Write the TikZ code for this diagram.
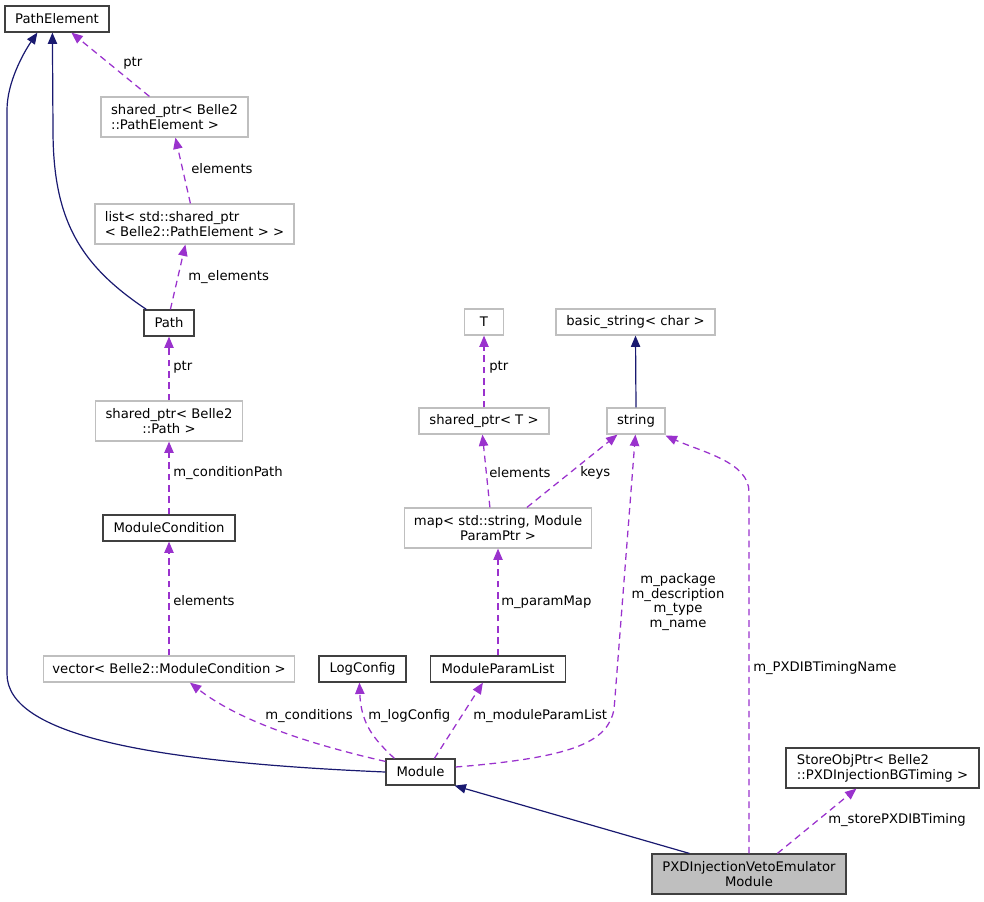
\documentclass[tikz,border=0pt]{standalone}
\usepackage{fontspec}
\setmainfont{DejaVu Sans}
\usetikzlibrary{arrows.meta,calc}
\definecolor{inhc}{HTML}{191970}
\definecolor{usec}{HTML}{9A32CD}
\definecolor{grayb}{HTML}{BFBFBF}
\definecolor{blackb}{HTML}{404040}
\tikzset{
  every node/.style={font=\fontsize{9.9}{11.3}\selectfont, inner sep=0pt},
  hone/.style={minimum height=19.5pt},
  htwo/.style={minimum height=30pt},
  gbox/.style={draw=grayb, line width=0.9pt, rectangle},
  bbox/.style={draw=blackb, line width=0.9pt, rectangle},
  hbox/.style={draw=blackb, fill=grayb, line width=0.9pt, rectangle},
  inh/.style={draw=inhc, line width=0.9pt, -{Triangle[length=8.5pt,width=7pt]}},
  use/.style={draw=usec, line width=0.95pt, dash pattern=on 5pt off 3.5pt, -{Triangle[length=8.5pt,width=7pt]}},
  lab/.style={anchor=west, text=black},
}
\begin{document}
\begin{tikzpicture}[x=0.75pt,y=-0.75pt]
\useasboundingbox (0,0) rectangle (984,901);
% nodes
\node[bbox, hone, minimum width=78pt] (pe) at (57,19) {PathElement};
\node[gbox, htwo, minimum width=110.25pt, align=left] (spe) at (174.5,117) {shared\_ptr< Belle2\\::PathElement >};
\node[gbox, htwo, minimum width=149.25pt, align=left] (lst) at (194.5,224) {list< std::shared\_ptr\\< Belle2::PathElement > >};
\node[bbox, hone, minimum width=37.5pt] (path) at (169,323) {Path};
\node[gbox, htwo, minimum width=110.25pt, align=center] (spp) at (169,421) {shared\_ptr< Belle2\\::Path >};
\node[bbox, hone, minimum width=99pt] (mc) at (169,528) {ModuleCondition};
\node[gbox, hone, minimum width=188.25pt] (vec) at (169,669) {vector< Belle2::ModuleCondition >};
\node[bbox, hone, minimum width=65.25pt] (lc) at (362.5,669) {LogConfig};
\node[bbox, hone, minimum width=101.25pt] (mpl) at (498,669) {ModuleParamList};
\node[bbox, hone, minimum width=51.75pt] (mod) at (420.5,772) {Module};
\node[gbox, hone, minimum width=29.25pt] (T) at (484,322) {T};
\node[gbox, hone, minimum width=119.25pt] (bs) at (635.5,322) {basic\_string< char >};
\node[gbox, hone, minimum width=97.5pt] (spt) at (484,421) {shared\_ptr< T >};
\node[gbox, hone, minimum width=43.5pt] (str) at (636,421) {string};
\node[gbox, htwo, minimum width=140.25pt, align=center] (map) at (498,528) {map< std::string, Module\\ParamPtr >};
\node[bbox, htwo, minimum width=144.75pt, align=left] (sop) at (882.5,768) {StoreObjPtr< Belle2\\::PXDInjectionBGTiming >};
\node[hbox, htwo, minimum width=145.5pt, align=center] (pxd) at (749,874) {PXDInjectionVetoEmulator\\Module};
% inheritance edges
\draw[inh] (mod.west) .. controls (150,762) and (7,735) .. (7,674) -- (7,110) .. controls (7,82) and (24,52) .. ($(pe.south west)+(33,0)$);
\draw[inh] ($(path.north west)+(3,0)$) .. controls (80,265) and (53,220) .. (53,130) -- ($(pe.south west)+(48,0)$);
\draw[inh] (str.north) -- (bs.south);
\draw[inh] ($(pxd.north west)+(38,0)$) -- ($(mod.south east)+(-1,0)$);
% usage edges
\draw[use] ($(spe.north west)+(49,0)$) -- ($(pe.south west)+(67,0)$);
\node[lab] (l1) at (123,63) {ptr};
\draw[use] ($(lst.north west)+(96,0)$) -- ($(spe.south west)+(75,0)$);
\node[lab] (l2) at (191,169) {elements};
\draw[use] ($(path.north west)+(27,0)$) -- ($(lst.south west)+(91,0)$);
\node[lab] (l3) at (188,277) {m\_elements};
\draw[use] (spp.north) -- (path.south);
\node[lab] (l4) at (173,367) {ptr};
\draw[use] (mc.north) -- (spp.south);
\node[lab] (l5) at (173,473) {m\_conditionPath};
\draw[use] (vec.north) -- (mc.south);
\node[lab] (l6) at (173,601) {elements};
\draw[use] ($(mod.north west)+(0,3)$) .. controls (300,742) and (235,718) .. ($(vec.south west)+(147,0)$);
\node[lab] (l7) at (265,716) {m\_conditions};
\draw[use] ($(mod.north west)+(9,0)$) .. controls (375,740) and (361,725) .. ($(lc.south west)+(41,0)$);
\node[lab] (l8) at (368,716) {m\_logConfig};
\draw[use] ($(mod.north west)+(49,0)$) -- ($(mpl.south west)+(53,0)$);
\node[lab] (l9) at (473,716) {m\_moduleParamList};
\draw[use] (mpl.north) -- (map.south);
\node[lab] (l10) at (501,602) {m\_paramMap};
\draw[use] ($(map.north west)+(86,0)$) -- ($(spt.south west)+(64,0)$);
\node[lab] (l11) at (489,473) {elements};
\draw[use] (spt.north) -- (T.south);
\node[lab] (l12) at (489,367) {ptr};
\draw[use] ($(map.north west)+(123,0)$) -- ($(str.south west)+(11,0)$);
\node[lab] (l13) at (580,473) {keys};
\draw[use] ($(mod.east)+(0,-5)$) .. controls (580,757) and (607,740) .. (614,710) -- ($(str.south west)+(29,0)$);
\node[align=center, font=\fontsize{9.9}{10.8}\selectfont] (l14) at (678,602) {m\_package\\m\_description\\m\_type\\m\_name};
\draw[use] (pxd.north) -- (749,492) .. controls (749,462) and (702,452) .. ($(str.south east)+(0,1)$);
\node[lab] (l15) at (753,668) {m\_PXDIBTimingName};
\draw[use] ($(pxd.north west)+(126,0)$) -- ($(sop.south west)+(71,0)$);
\node[lab] (l16) at (828,820) {m\_storePXDIBTiming};
\end{tikzpicture}
\end{document}
